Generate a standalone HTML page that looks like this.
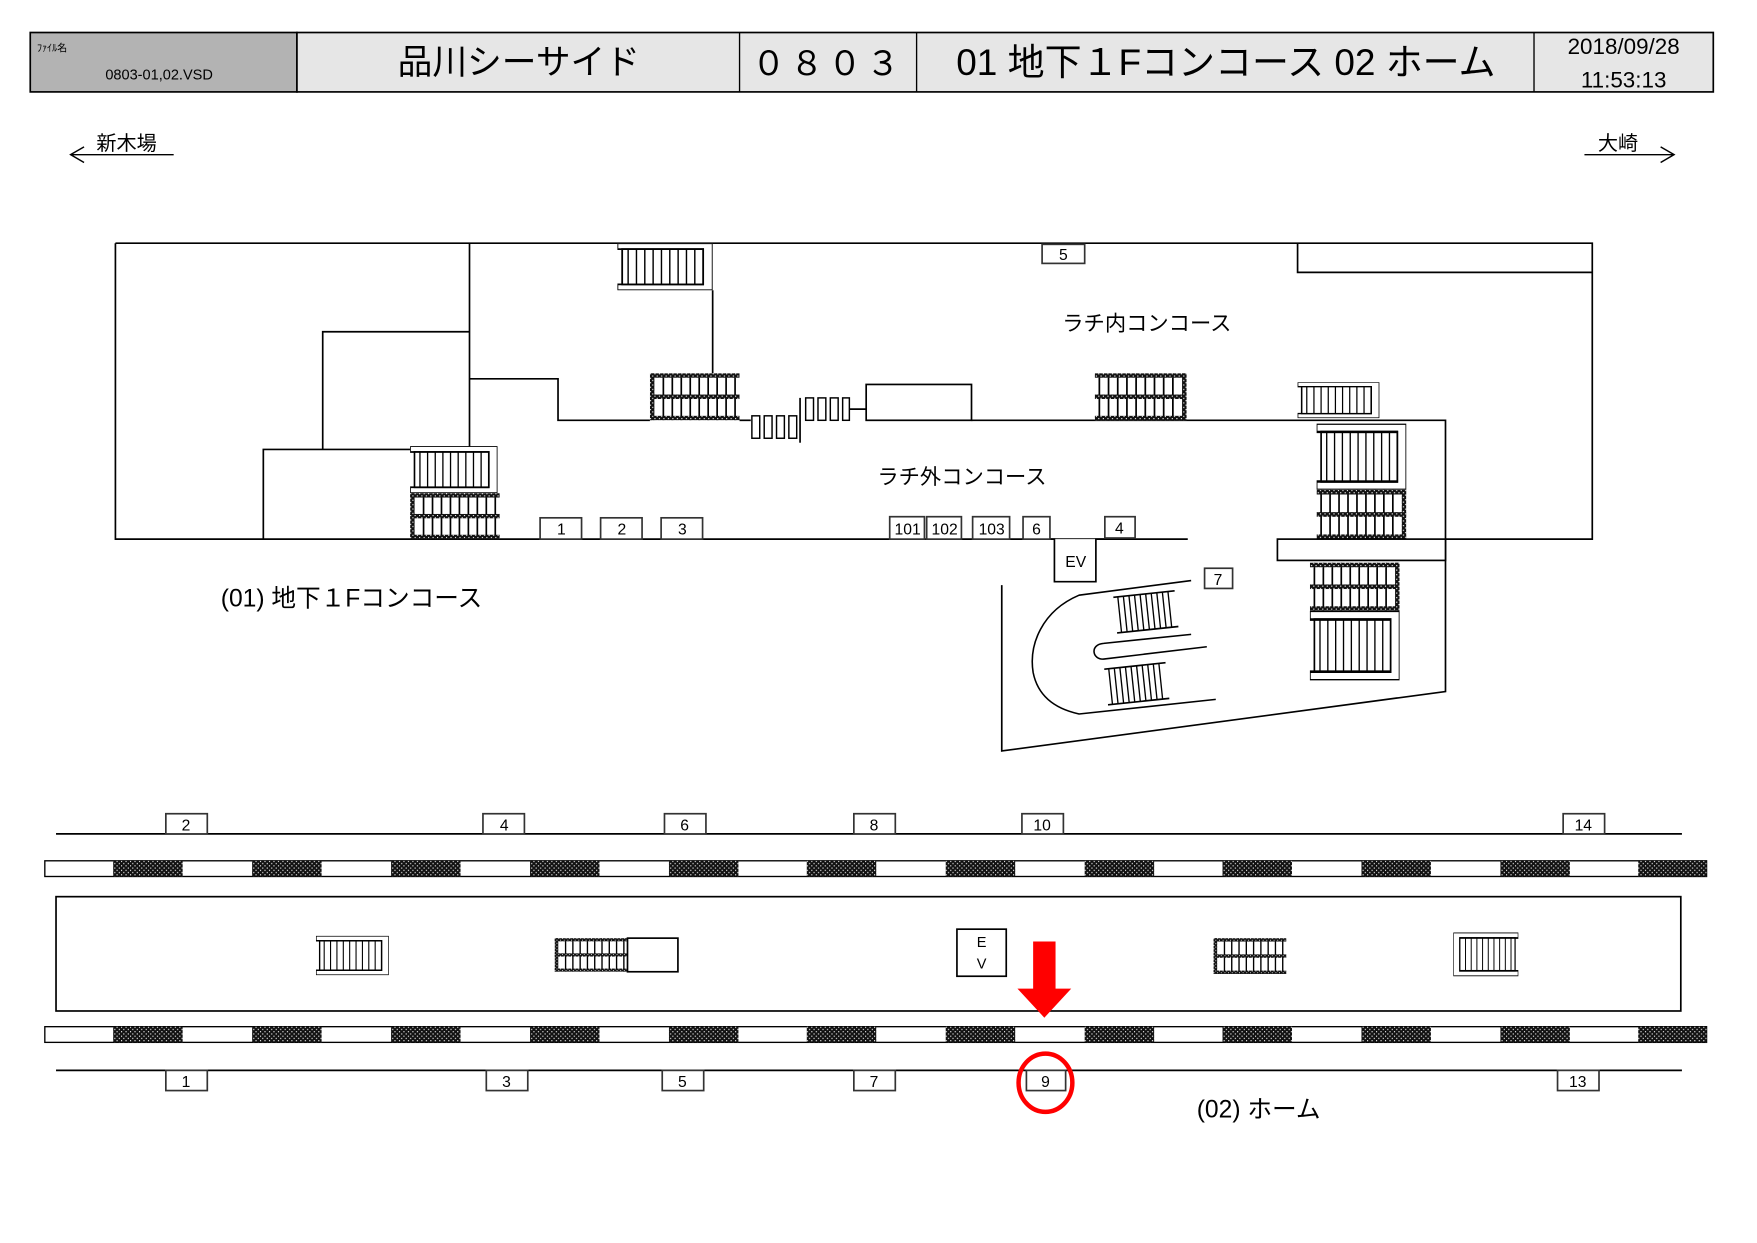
<!DOCTYPE html>
<html><head><meta charset="utf-8">
<style>
html,body{margin:0;padding:0;background:#fff;}
svg{display:block;}
text{font-family:"Liberation Sans","Noto Sans CJK JP",sans-serif;fill:#000;}
</style></head>
<body>
<svg width="1757" height="1243" viewBox="0 0 1568 1109" preserveAspectRatio="none" xmlns="http://www.w3.org/2000/svg">
<defs>
<pattern id="dk" width="4" height="4" patternUnits="userSpaceOnUse">
<rect width="4" height="4" fill="#111"/><rect x="0" y="0" width="1" height="1" fill="#fff"/><rect x="2" y="2" width="1" height="1" fill="#fff"/>
</pattern>
<symbol id="esc" viewBox="0 0 80 42" preserveAspectRatio="none">
<rect x="0" y="0" width="80" height="42" fill="#fff"/>
<g stroke="#000" stroke-width="1.5">
<line x1="12" y1="0" x2="12" y2="42"/><line x1="20" y1="0" x2="20" y2="42"/><line x1="28" y1="0" x2="28" y2="42"/><line x1="36" y1="0" x2="36" y2="42"/><line x1="44" y1="0" x2="44" y2="42"/><line x1="52" y1="0" x2="52" y2="42"/><line x1="60" y1="0" x2="60" y2="42"/><line x1="68" y1="0" x2="68" y2="42"/><line x1="76" y1="0" x2="76" y2="42"/>
</g>
<rect x="0" y="0" width="80" height="4" fill="url(#dk)"/>
<rect x="0" y="19" width="80" height="4" fill="url(#dk)"/>
<rect x="0" y="38" width="80" height="4" fill="url(#dk)"/>
<rect x="0" y="0" width="4" height="42" fill="url(#dk)"/>
</symbol>
<symbol id="stair" viewBox="0 0 80 40" preserveAspectRatio="none">
<path d="M80 0 H0 V40 H80 V35 H8 V5 H80 Z" fill="#fff" stroke="#000" stroke-width="1.5"/>
<rect x="8" y="5" width="68" height="30" fill="#fff" stroke="#000" stroke-width="1.5"/>
<g stroke="#000" stroke-width="1.2">
<line x1="15" y1="5" x2="15" y2="35"/><line x1="22" y1="5" x2="22" y2="35"/><line x1="29" y1="5" x2="29" y2="35"/><line x1="36" y1="5" x2="36" y2="35"/><line x1="43" y1="5" x2="43" y2="35"/><line x1="50" y1="5" x2="50" y2="35"/><line x1="57" y1="5" x2="57" y2="35"/><line x1="64" y1="5" x2="64" y2="35"/><line x1="71" y1="5" x2="71" y2="35"/>
</g>
</symbol>
<symbol id="stripes" viewBox="0 0 50 30" preserveAspectRatio="none">
<rect x="0" y="0" width="50" height="30" fill="#fff"/>
<g stroke="#000" stroke-width="1.2">
<line x1="1" y1="0" x2="1" y2="30"/><line x1="6" y1="0" x2="6" y2="30"/><line x1="11" y1="0" x2="11" y2="30"/><line x1="16" y1="0" x2="16" y2="30"/><line x1="21" y1="0" x2="21" y2="30"/><line x1="26" y1="0" x2="26" y2="30"/><line x1="31" y1="0" x2="31" y2="30"/><line x1="36" y1="0" x2="36" y2="30"/><line x1="41" y1="0" x2="41" y2="30"/><line x1="46" y1="0" x2="46" y2="30"/>
</g>
</symbol>
</defs>

<!-- Header -->
<rect x="27" y="29" width="238" height="53" fill="#b3b3b3" stroke="#000" stroke-width="1.5"/>
<rect x="265" y="29" width="1264" height="53" fill="#e6e6e6" stroke="#000" stroke-width="1.5"/>
<g stroke="#000" stroke-width="1.2"><line x1="660" y1="29" x2="660" y2="82"/><line x1="818" y1="29" x2="818" y2="82"/><line x1="1369" y1="29" x2="1369" y2="82"/></g>
<text x="33" y="46" font-size="9">ﾌｧｲﾙ名</text>
<text x="94" y="71" font-size="13">0803-01,02.VSD</text>
<text x="463" y="66" font-size="31" text-anchor="middle">品川シーサイド</text>
<text x="739" y="67" font-size="30" text-anchor="middle" letter-spacing="4">０８０３</text>
<text x="1094" y="67" font-size="33" text-anchor="middle">01 地下１Fコンコース 02 ホーム</text>
<text x="1449" y="48" font-size="20" text-anchor="middle">2018/09/28</text>
<text x="1449" y="78" font-size="20" text-anchor="middle">11:53:13</text>

<!-- Direction -->
<text x="86" y="134" font-size="18">新木場</text>
<path d="M63 138 H155 M75 131 L63 138 L75 145" fill="none" stroke="#000" stroke-width="1.3"/>
<text x="1426" y="134" font-size="18">大崎</text>
<path d="M1414 138 H1494 M1482 131 L1494 138 L1482 145" fill="none" stroke="#000" stroke-width="1.3"/>

<!-- Concourse outline -->
<g fill="none" stroke="#000" stroke-width="1.5">
<path d="M103 217 H1421 V481 H1290"/>
<path d="M103 217 V481 H1060"/>
<path d="M1158 217 V243 H1421"/>
<path d="M419 217 V400"/>
<path d="M288 401 V296 H419"/>
<path d="M235 481 V401 H366"/>
<path d="M419 338 H498 V375 H580"/>
<path d="M636 259 V333"/>
<path d="M660 375 H670"/>
<path d="M867 375 H1290 V617 L894 670 V522"/>
<path d="M758 365 H773"/>
<path d="M714 355 V395"/>
</g>
<rect x="773" y="343" width="94" height="32" fill="#fff" stroke="#000" stroke-width="1.5"/>
<!-- gates -->
<g fill="#fff" stroke="#000" stroke-width="1.3">
<rect x="671" y="371" width="7" height="20"/><rect x="682" y="371" width="7" height="20"/><rect x="693" y="371" width="7" height="20"/><rect x="704" y="371" width="7" height="20"/>
<rect x="719" y="355" width="7" height="20"/><rect x="730" y="355" width="7" height="20"/><rect x="741" y="355" width="7" height="20"/><rect x="752" y="355" width="6" height="20"/>
</g>
<!-- stairs & escalators concourse -->
<use href="#stair" x="551" y="217" width="85" height="42" transform="translate(1187 0) scale(-1 1)"/>
<use href="#esc" x="580" y="333" width="80" height="42"/>
<use href="#esc" x="977" y="333" width="82" height="42" transform="translate(2036 0) scale(-1 1)"/>
<use href="#stair" x="1158" y="341" width="73" height="32" transform="translate(2389 0) scale(-1 1)"/>
<use href="#stair" x="366" y="398" width="78" height="42" transform="translate(810 0) scale(-1 1)"/>
<use href="#esc" x="366" y="440" width="80" height="41"/>
<use href="#stair" x="1175" y="378" width="80" height="59" transform="translate(2430 0) scale(-1 1)"/>
<use href="#esc" x="1175" y="437" width="80" height="44" transform="translate(2430 0) scale(-1 1)"/>
<rect x="1140" y="481" width="150" height="19" fill="#fff" stroke="#000" stroke-width="1.5"/>
<use href="#esc" x="1169" y="502" width="80" height="43" transform="translate(2418 0) scale(-1 1)"/>
<use href="#stair" x="1169" y="545" width="80" height="62" transform="translate(2418 0) scale(-1 1)"/>

<!-- EV -->
<path d="M912 481 H941 V519 H978 V481 H986" fill="#fff" stroke="#000" stroke-width="1.5"/>
<text x="960" y="506" font-size="14" text-anchor="middle">EV</text>
<!-- curved U -->
<g fill="none" stroke="#000" stroke-width="1.4">
<path d="M1063 518 L963 531 C930 545 918 575 922 600 C926 620 940 632 963 637 L1085 624"/>
<path d="M1077 577 L985 588 C975 589 972 575 985 574 L1063 566"/>
</g>
<g transform="rotate(-6 1022 545)"><use href="#stripes" x="998" y="530" width="50" height="32"/>
<line x1="995" y1="530" x2="1050" y2="530" stroke="#000" stroke-width="1.5"/><line x1="995" y1="562" x2="1050" y2="562" stroke="#000" stroke-width="1.5"/></g>
<g transform="rotate(-6 1015 610)"><use href="#stripes" x="990" y="594" width="50" height="32"/>
<line x1="987" y1="594" x2="1042" y2="594" stroke="#000" stroke-width="1.5"/><line x1="987" y1="626" x2="1042" y2="626" stroke="#000" stroke-width="1.5"/></g>

<!-- labels concourse -->
<text x="948" y="295" font-size="19">ラチ内コンコース</text>
<text x="783" y="432" font-size="19">ラチ外コンコース</text>
<text x="197" y="541" font-size="22">(01) 地下１Fコンコース</text>

<!-- number boxes concourse -->
<g fill="#fff" stroke="#333" stroke-width="1.5">
<rect x="482" y="462" width="37" height="19"/><rect x="536" y="462" width="37" height="19"/><rect x="590" y="462" width="37" height="19"/>
<rect x="794" y="461" width="31" height="20"/><rect x="827" y="461" width="31" height="20"/><rect x="868" y="461" width="33" height="20"/>
<rect x="913" y="461" width="24" height="20"/><rect x="986" y="461" width="27" height="19"/>
<rect x="930" y="218" width="38" height="17"/><rect x="1075" y="507" width="25" height="18"/>
</g>
<g font-size="14" text-anchor="middle">
<text x="501" y="477">1</text><text x="555" y="477">2</text><text x="609" y="477">3</text>
<text x="810" y="477">101</text><text x="843" y="477">102</text><text x="885" y="477">103</text>
<text x="925" y="477">6</text><text x="999" y="476">4</text><text x="949" y="232">5</text><text x="1087" y="522">7</text>
</g>

<!-- Platform -->
<line x1="50" y1="744" x2="1501" y2="744" stroke="#000" stroke-width="1.5"/>
<line x1="50" y1="955" x2="1501" y2="955" stroke="#000" stroke-width="1.5"/>
<rect x="40" y="768" width="1483" height="14" fill="#fff" stroke="#000" stroke-width="1.2"/>
<rect x="40" y="916" width="1483" height="14" fill="#fff" stroke="#000" stroke-width="1.2"/>
<g fill="url(#dk)">
<rect x="101" y="768" width="62" height="14"/><rect x="225" y="768" width="62" height="14"/><rect x="349" y="768" width="62" height="14"/><rect x="473" y="768" width="62" height="14"/><rect x="597" y="768" width="62" height="14"/><rect x="720" y="768" width="62" height="14"/><rect x="844" y="768" width="62" height="14"/><rect x="968" y="768" width="62" height="14"/><rect x="1091" y="768" width="62" height="14"/><rect x="1215" y="768" width="62" height="14"/><rect x="1339" y="768" width="62" height="14"/><rect x="1462" y="768" width="61" height="14"/>
<rect x="101" y="916" width="62" height="14"/><rect x="225" y="916" width="62" height="14"/><rect x="349" y="916" width="62" height="14"/><rect x="473" y="916" width="62" height="14"/><rect x="597" y="916" width="62" height="14"/><rect x="720" y="916" width="62" height="14"/><rect x="844" y="916" width="62" height="14"/><rect x="968" y="916" width="62" height="14"/><rect x="1091" y="916" width="62" height="14"/><rect x="1215" y="916" width="62" height="14"/><rect x="1339" y="916" width="62" height="14"/><rect x="1462" y="916" width="61" height="14"/>
</g>
<rect x="50" y="800" width="1450" height="102" fill="none" stroke="#000" stroke-width="1.5"/>

<!-- platform boxes -->
<g fill="#fff" stroke="#333" stroke-width="1.5">
<rect x="148" y="726" width="37" height="18"/><rect x="431" y="726" width="37" height="18"/><rect x="593" y="726" width="37" height="18"/><rect x="762" y="726" width="37" height="18"/><rect x="912" y="726" width="37" height="18"/><rect x="1395" y="726" width="37" height="18"/>
<rect x="148" y="955" width="37" height="18"/><rect x="434" y="955" width="37" height="18"/><rect x="591" y="955" width="37" height="18"/><rect x="762" y="955" width="37" height="18"/><rect x="916" y="955" width="35" height="18"/><rect x="1390" y="955" width="37" height="18"/>
</g>
<g font-size="14" text-anchor="middle">
<text x="166" y="741">2</text><text x="450" y="741">4</text><text x="611" y="741">6</text><text x="780" y="741">8</text><text x="930" y="741">10</text><text x="1413" y="741">14</text>
<text x="166" y="970">1</text><text x="452" y="970">3</text><text x="609" y="970">5</text><text x="780" y="970">7</text><text x="933" y="970">9</text><text x="1408" y="970">13</text>
</g>

<!-- platform facilities -->
<use href="#stair" x="282" y="835" width="65" height="35" transform="translate(629 0) scale(-1 1)"/>
<use href="#esc" x="495" y="837" width="65" height="30"/>
<rect x="560" y="837" width="45" height="30" fill="#fff" stroke="#000" stroke-width="1.5"/>
<rect x="854" y="829" width="44" height="42" fill="#fff" stroke="#000" stroke-width="1.5"/>
<text x="876" y="845" font-size="13" text-anchor="middle">E</text>
<text x="876" y="864" font-size="13" text-anchor="middle">V</text>
<use href="#esc" x="1083" y="837" width="65" height="32"/>
<use href="#stair" x="1297" y="832" width="58" height="39"/>

<!-- red marks -->
<rect x="922" y="840" width="20" height="43" fill="#f00"/>
<polygon points="908,882 956,882 932,908" fill="#f00"/>
<ellipse cx="933" cy="966" rx="24" ry="26" fill="none" stroke="#f00" stroke-width="4"/>

<text x="1068" y="997" font-size="22">(02) ホーム</text>
</svg>
</body></html>
